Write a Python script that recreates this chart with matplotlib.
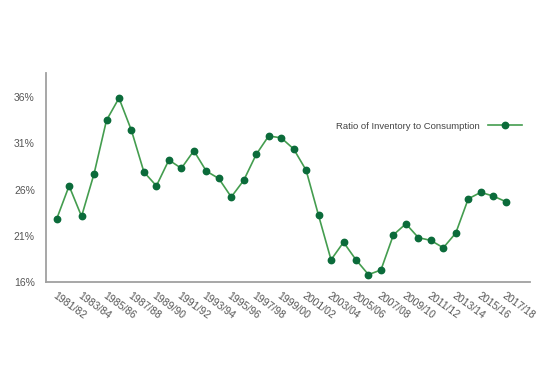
import matplotlib
matplotlib.use('Agg')
import matplotlib.pyplot as plt
import numpy as np

# 字体
plt.rcParams['font.family'] = ['Liberation Sans', 'DejaVu Sans']

# 数据：年份和库存消费比（%）
years = ['1981/82', '1982/83', '1983/84', '1984/85', '1985/86', '1986/87', '1987/88',
         '1988/89', '1989/90', '1990/91', '1991/92', '1992/93', '1993/94', '1994/95',
         '1995/96', '1996/97', '1997/98', '1998/99', '1999/00', '2000/01', '2001/02',
         '2002/03', '2003/04', '2004/05', '2005/06', '2006/07', '2007/08', '2008/09',
         '2009/10', '2010/11', '2011/12', '2012/13', '2013/14', '2014/15', '2015/16',
         '2016/17', '2017/18']
ratio = [22.8, 26.4, 23.1, 27.7, 33.5, 35.9, 32.4, 27.9, 26.4, 29.2, 28.3, 30.2, 28.0,
         27.2, 25.2, 27.0, 29.8, 31.8, 31.6, 30.4, 28.1, 23.2, 18.4, 20.3, 18.4, 16.8,
         17.3, 21.1, 22.3, 20.8, 20.5, 19.7, 21.3, 25.0, 25.7, 25.3, 24.7]
y_ticks = [16, 21, 26, 31, 36]

fig = plt.figure(figsize=(5.49, 3.77), dpi=100)
ax = fig.add_axes([0.0838, 0.252, 0.8816, 0.554])

x = np.arange(len(years))
ax.plot(x, ratio, color='#449d4f', lw=1.2, marker='o', markersize=4.6,
        markerfacecolor='#0b6b3a', markeredgecolor='#0b6b3a',
        label='Ratio of Inventory to Consumption')

ax.set_xlim(-0.85, 37.95)
ax.set_ylim(16, 38.6)
ax.set_yticks(y_ticks)
ax.set_yticklabels([f'{v}%' for v in y_ticks])
ax.set_xticks(x[::2])
ax.set_xticklabels(years[::2], rotation=-36, ha='left', va='top', rotation_mode='anchor')

ax.tick_params(axis='both', length=0, labelsize=7.5, labelcolor='#555555')
ax.tick_params(axis='y', pad=8)
ax.tick_params(axis='x', pad=6)

# 坐标轴样式
for s in ['top', 'right']:
    ax.spines[s].set_visible(False)
for s in ['left', 'bottom']:
    ax.spines[s].set_color('#a0a0a0')
    ax.spines[s].set_linewidth(1.3)

# 图例放在右上方，线在文字右侧
ax.legend(loc='center right', bbox_to_anchor=(530 / 549, 1 - 126 / 377),
          bbox_transform=fig.transFigure, frameon=False, markerfirst=False,
          fontsize=6.8, handlelength=3.6, handletextpad=0.8, labelcolor='#444444')

plt.savefig('out.png', dpi=100)
plt.close()
